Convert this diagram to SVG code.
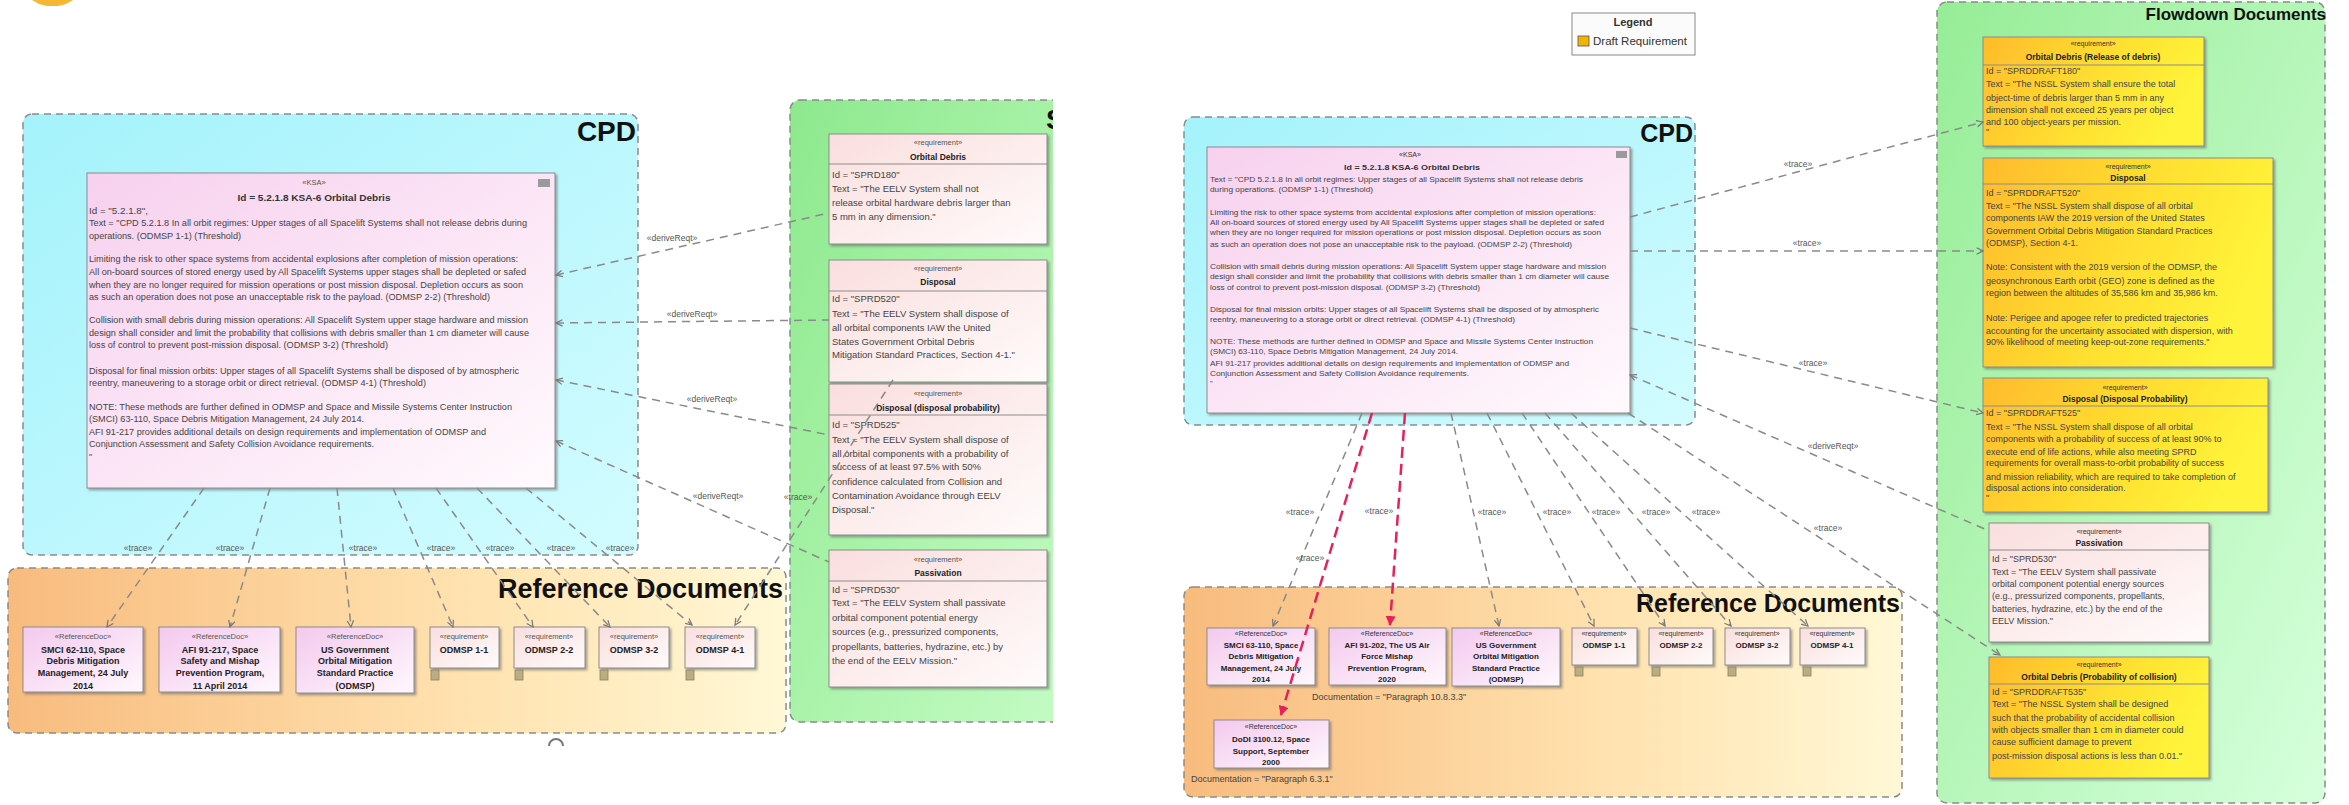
<svg xmlns="http://www.w3.org/2000/svg" width="2349" height="805" viewBox="0 0 2349 805">
<defs>
  <linearGradient id="gCyan" x1="0" y1="0" x2="1" y2="1"><stop offset="0" stop-color="#a4f2fb"/><stop offset="1" stop-color="#d2fcff"/></linearGradient>
  <linearGradient id="gKsa" x1="0" y1="0" x2="1" y2="1"><stop offset="0" stop-color="#f7d0ee"/><stop offset="1" stop-color="#fffafd"/></linearGradient>
  <linearGradient id="gReq" x1="0" y1="0" x2="1" y2="1"><stop offset="0" stop-color="#fadede"/><stop offset="1" stop-color="#fffbfb"/></linearGradient>
  <linearGradient id="gDoc" x1="0" y1="0" x2="1" y2="1"><stop offset="0" stop-color="#f3c9ee"/><stop offset="1" stop-color="#fff8fd"/></linearGradient>
  <linearGradient id="gRef" x1="0" y1="0" x2="1" y2="0"><stop offset="0" stop-color="#f8bb7e"/><stop offset="0.6" stop-color="#ffe3b0"/><stop offset="1" stop-color="#fff8d6"/></linearGradient>
  <linearGradient id="gGreen" x1="0" y1="0" x2="1" y2="1"><stop offset="0" stop-color="#8de98d"/><stop offset="1" stop-color="#c6fcc6"/></linearGradient>
  <linearGradient id="gFlow" x1="0" y1="0" x2="1" y2="1"><stop offset="0" stop-color="#96ed96"/><stop offset="1" stop-color="#d6ffdc"/></linearGradient>
  <linearGradient id="gDraft" x1="0" y1="0" x2="1" y2="0.3"><stop offset="0" stop-color="#ffbb2c"/><stop offset="0.6" stop-color="#ffe030"/><stop offset="1" stop-color="#fff33a"/></linearGradient>
  <filter id="sh" x="-5%" y="-5%" width="115%" height="115%"><feDropShadow dx="2" dy="2" stdDeviation="1" flood-color="#666" flood-opacity="0.55"/></filter>
  <marker id="aOpen" viewBox="0 0 10 10" refX="9" refY="5" markerWidth="8" markerHeight="8" markerUnits="userSpaceOnUse" orient="auto-start-reverse"><path d="M1,1 L9,5 L1,9" fill="none" stroke="#777" stroke-width="1.5"/></marker>
  <marker id="aRed" viewBox="0 0 10 10" refX="9" refY="5" markerWidth="10" markerHeight="10" markerUnits="userSpaceOnUse" orient="auto"><path d="M0,0 L10,5 L0,10 Z" fill="#e8205a"/></marker>
  <clipPath id="clipL"><rect x="0" y="0" width="1053" height="805"/></clipPath>
</defs>
<style>
  text { font-family: "Liberation Sans", Arial, sans-serif; fill: #333; }
  .cont { stroke: #8a8a8a; stroke-width: 1.5; stroke-dasharray: 7 5; }
  .box { stroke: #8c8c8c; stroke-width: 1; }
  .sep { stroke: #8c8c8c; stroke-width: 1; }
  .title { font-weight: bold; fill: #111; }
  .st { font-size: 7.5px; text-anchor: middle; fill: #555; }
  .nm { font-size: 8.5px; font-weight: bold; text-anchor: middle; fill: #222; }
  .bd { font-size: 9.5px; fill: #444; }
  .fb { font-size: 9px; fill: #444; }
  .kb { font-size: 8.5px; fill: #444; }
  .kr { font-size: 7.2px; fill: #444; }
  .dn { font-size: 9px; font-weight: bold; text-anchor: middle; fill: #222; }
  .dnr { font-size: 8px; font-weight: bold; text-anchor: middle; fill: #222; }
  .lbl { font-size: 8.5px; text-anchor: middle; fill: #555; }
  .cn { fill: none; stroke: #8a8a8a; stroke-width: 1.5; stroke-dasharray: 8 6; }
  .red { fill: none; stroke: #e8205a; stroke-width: 2.5; stroke-dasharray: 11 6; }
  .doc { font-size: 9px; fill: #444; }
</style>

<!-- stray shape at the top edge -->
<polygon points="32,0 73,0 66,4 58,6 47,6 39,4" fill="#f7b733"/>

<!-- ================= left view ================= -->
<g id="left-view" clip-path="url(#clipL)">
  <g id="cpd-left">
    <rect x="23" y="114" width="615" height="441" rx="9" fill="url(#gCyan)" class="cont"/>
    <text x="636" y="141" class="title" font-size="28" text-anchor="end">CPD</text>
  </g>
  <g id="refdocs-left">
    <rect x="8" y="568" width="778" height="165" rx="9" fill="url(#gRef)" class="cont"/>
    <text x="783" y="598" class="title" font-size="27" text-anchor="end">Reference Documents</text>
  </g>
  <g id="sprd-left">
    <rect x="790" y="100" width="300" height="622" rx="10" fill="url(#gGreen)" class="cont"/>
    <text x="1046" y="129" class="title" font-size="28">S</text>
  </g>

  <g id="ksa-left">
    <rect x="87" y="173" width="468" height="315" fill="url(#gKsa)" class="box" filter="url(#sh)"/>
    <rect x="538" y="179" width="12" height="8" fill="#9a9a9a"/>
    <text x="314" y="185" class="st">«KSA»</text>
    <text x="314" y="201" font-size="9" font-weight="bold" text-anchor="middle" fill="#222" textLength="153" lengthAdjust="spacingAndGlyphs">Id = 5.2.1.8 KSA-6 Orbital Debris</text>
    <text class="kb" x="89" y="214" textLength="59" lengthAdjust="spacingAndGlyphs">Id = "5.2.1.8",</text>
    <text class="kb" x="89" y="226" textLength="438" lengthAdjust="spacingAndGlyphs">Text = "CPD 5.2.1.8 In all orbit regimes: Upper stages of all Spacelift Systems shall not release debris during</text>
    <text class="kb" x="89" y="239" textLength="152" lengthAdjust="spacingAndGlyphs">operations. (ODMSP 1-1) (Threshold)</text>
    <text class="kb" x="89" y="262" textLength="429" lengthAdjust="spacingAndGlyphs">Limiting the risk to other space systems from accidental explosions after completion of mission operations:</text>
    <text class="kb" x="89" y="275" textLength="437" lengthAdjust="spacingAndGlyphs">All on-board sources of stored energy used by All Spacelift Systems upper stages shall be depleted or safed</text>
    <text class="kb" x="89" y="288" textLength="434" lengthAdjust="spacingAndGlyphs">when they are no longer required for mission operations or post mission disposal. Depletion occurs as soon</text>
    <text class="kb" x="89" y="300" textLength="401" lengthAdjust="spacingAndGlyphs">as such an operation does not pose an unacceptable risk to the payload. (ODMSP 2-2) (Threshold)</text>
    <text class="kb" x="89" y="323" textLength="439" lengthAdjust="spacingAndGlyphs">Collision with small debris during mission operations: All Spacelift System upper stage hardware and mission</text>
    <text class="kb" x="89" y="336" textLength="440" lengthAdjust="spacingAndGlyphs">design shall consider and limit the probability that collisions with debris smaller than 1 cm diameter will cause</text>
    <text class="kb" x="89" y="348" textLength="299" lengthAdjust="spacingAndGlyphs">loss of control to prevent post-mission disposal. (ODMSP 3-2) (Threshold)</text>
    <text class="kb" x="89" y="374" textLength="430" lengthAdjust="spacingAndGlyphs">Disposal for final mission orbits: Upper stages of all Spacelift Systems shall be disposed of by atmospheric</text>
    <text class="kb" x="89" y="386" textLength="337" lengthAdjust="spacingAndGlyphs">reentry, maneuvering to a storage orbit or direct retrieval. (ODMSP 4-1) (Threshold)</text>
    <text class="kb" x="89" y="410" textLength="423" lengthAdjust="spacingAndGlyphs">NOTE: These methods are further defined in ODMSP and Space and Missile Systems Center Instruction</text>
    <text class="kb" x="89" y="422" textLength="275" lengthAdjust="spacingAndGlyphs">(SMCI) 63-110, Space Debris Mitigation Management, 24 July 2014.</text>
    <text class="kb" x="89" y="435" textLength="397" lengthAdjust="spacingAndGlyphs">AFI 91-217 provides additional details on design requirements and implementation of ODMSP and</text>
    <text class="kb" x="89" y="447" textLength="285" lengthAdjust="spacingAndGlyphs">Conjunction Assessment and Safety Collision Avoidance requirements.</text>
    <text class="kb" x="89" y="460">"</text>
  </g>

  <g id="sprd180">
    <rect x="829" y="134" width="218" height="110" fill="url(#gReq)" class="box" filter="url(#sh)"/>
    <line x1="829" y1="164" x2="1047" y2="164" class="sep"/>
    <text x="938" y="145" class="st">«requirement»</text>
    <text x="938" y="160" class="nm">Orbital Debris</text>
    <text class="bd" x="832" y="178">Id = "SPRD180"</text>
    <text class="bd" x="832" y="192">Text = "The EELV System shall not</text>
    <text class="bd" x="832" y="206">release orbital hardware debris larger than</text>
    <text class="bd" x="832" y="220">5 mm in any dimension."</text>
  </g>
  <g id="sprd520">
    <rect x="829" y="260" width="218" height="122" fill="url(#gReq)" class="box" filter="url(#sh)"/>
    <line x1="829" y1="291" x2="1047" y2="291" class="sep"/>
    <text x="938" y="271" class="st">«requirement»</text>
    <text x="938" y="285" class="nm">Disposal</text>
    <text class="bd" x="832" y="302">Id = "SPRD520"</text>
    <text class="bd" x="832" y="317">Text = "The EELV System shall dispose of</text>
    <text class="bd" x="832" y="331">all orbital components IAW the United</text>
    <text class="bd" x="832" y="345">States Government Orbital Debris</text>
    <text class="bd" x="832" y="358">Mitigation Standard Practices, Section 4-1."</text>
  </g>
  <g id="sprd525">
    <rect x="829" y="384" width="218" height="151" fill="url(#gReq)" class="box" filter="url(#sh)"/>
    <line x1="829" y1="415" x2="1047" y2="415" class="sep"/>
    <text x="938" y="396" class="st">«requirement»</text>
    <text x="938" y="411" class="nm">Disposal (disposal probability)</text>
    <text class="bd" x="832" y="428">Id = "SPRD525"</text>
    <text class="bd" x="832" y="443">Text = "The EELV System shall dispose of</text>
    <text class="bd" x="832" y="457">all orbital components with a probability of</text>
    <text class="bd" x="832" y="470">success of at least 97.5% with 50%</text>
    <text class="bd" x="832" y="485">confidence calculated from Collision and</text>
    <text class="bd" x="832" y="499">Contamination Avoidance through EELV</text>
    <text class="bd" x="832" y="513">Disposal."</text>
  </g>
  <g id="sprd530">
    <rect x="829" y="550" width="218" height="137" fill="url(#gReq)" class="box" filter="url(#sh)"/>
    <line x1="829" y1="581" x2="1047" y2="581" class="sep"/>
    <text x="938" y="562" class="st">«requirement»</text>
    <text x="938" y="576" class="nm">Passivation</text>
    <text class="bd" x="832" y="593">Id = "SPRD530"</text>
    <text class="bd" x="832" y="606">Text = "The EELV System shall passivate</text>
    <text class="bd" x="832" y="621">orbital component potential energy</text>
    <text class="bd" x="832" y="635">sources (e.g., pressurized components,</text>
    <text class="bd" x="832" y="650">propellants, batteries, hydrazine, etc.) by</text>
    <text class="bd" x="832" y="664">the end of the EELV Mission."</text>
  </g>

  <g id="smci-left">
    <rect x="23" y="627" width="120" height="65" fill="url(#gDoc)" class="box" filter="url(#sh)"/>
    <text x="83" y="639" class="st">«ReferenceDoc»</text>
    <text x="83" y="653" class="dn">SMCI 62-110, Space</text>
    <text x="83" y="664" class="dn">Debris Mitigation</text>
    <text x="83" y="676" class="dn">Management, 24 July</text>
    <text x="83" y="689" class="dn">2014</text>
  </g>
  <g id="afi217-left">
    <rect x="159" y="627" width="121" height="65" fill="url(#gDoc)" class="box" filter="url(#sh)"/>
    <text x="220" y="639" class="st">«ReferenceDoc»</text>
    <text x="220" y="653" class="dn">AFI 91-217, Space</text>
    <text x="220" y="664" class="dn">Safety and Mishap</text>
    <text x="220" y="676" class="dn">Prevention Program,</text>
    <text x="220" y="689" class="dn">11 April 2014</text>
  </g>
  <g id="odmsp-left">
    <rect x="296" y="627" width="118" height="66" fill="url(#gDoc)" class="box" filter="url(#sh)"/>
    <text x="355" y="639" class="st">«ReferenceDoc»</text>
    <text x="355" y="653" class="dn">US Government</text>
    <text x="355" y="664" class="dn">Orbital Mitigation</text>
    <text x="355" y="676" class="dn">Standard Practice</text>
    <text x="355" y="689" class="dn">(ODMSP)</text>
  </g>
  <g id="odmsp11-left">
    <rect x="430" y="627" width="69" height="41" fill="url(#gReq)" class="box" filter="url(#sh)"/>
    <text x="464" y="639" class="st">«requirement»</text>
    <text x="464" y="653" class="dn">ODMSP 1-1</text>
    <rect x="431" y="670" width="8" height="10" fill="#b9ad82" stroke="#8a8060" stroke-width="0.8"/>
  </g>
  <g id="odmsp22-left">
    <rect x="514" y="627" width="71" height="41" fill="url(#gReq)" class="box" filter="url(#sh)"/>
    <text x="549" y="639" class="st">«requirement»</text>
    <text x="549" y="653" class="dn">ODMSP 2-2</text>
    <rect x="515" y="670" width="8" height="10" fill="#b9ad82" stroke="#8a8060" stroke-width="0.8"/>
  </g>
  <g id="odmsp32-left">
    <rect x="599" y="627" width="70" height="41" fill="url(#gReq)" class="box" filter="url(#sh)"/>
    <text x="634" y="639" class="st">«requirement»</text>
    <text x="634" y="653" class="dn">ODMSP 3-2</text>
    <rect x="600" y="670" width="8" height="10" fill="#b9ad82" stroke="#8a8060" stroke-width="0.8"/>
  </g>
  <g id="odmsp41-left">
    <rect x="685" y="627" width="70" height="41" fill="url(#gReq)" class="box" filter="url(#sh)"/>
    <text x="720" y="639" class="st">«requirement»</text>
    <text x="720" y="653" class="dn">ODMSP 4-1</text>
    <rect x="686" y="670" width="8" height="10" fill="#b9ad82" stroke="#8a8060" stroke-width="0.8"/>
  </g>

  <path d="M549,746 A7,7 0 0 1 563,746" fill="none" stroke="#777" stroke-width="2"/>

  <g id="connectors-left">
    <path class="cn" d="M556,275 L829,213" marker-start="url(#aOpen)"/>
    <path class="cn" d="M556,323 L829,320" marker-start="url(#aOpen)"/>
    <path class="cn" d="M556,380 L829,435" marker-start="url(#aOpen)"/>
    <path class="cn" d="M556,441 L829,562" marker-start="url(#aOpen)"/>
    <path class="cn" d="M893,380 L735,625" marker-end="url(#aOpen)"/>
    <path class="cn" d="M204,488 L107,627" marker-end="url(#aOpen)"/>
    <path class="cn" d="M270,488 L230,627" marker-end="url(#aOpen)"/>
    <path class="cn" d="M337,488 L351,627" marker-end="url(#aOpen)"/>
    <path class="cn" d="M393,488 L453,627" marker-end="url(#aOpen)"/>
    <path class="cn" d="M436,488 L533,627" marker-end="url(#aOpen)"/>
    <path class="cn" d="M477,488 L610,627" marker-end="url(#aOpen)"/>
    <path class="cn" d="M526,488 L692,625" marker-end="url(#aOpen)"/>
    <text class="lbl" x="672" y="241">«deriveReqt»</text>
    <text class="lbl" x="692" y="317">«deriveReqt»</text>
    <text class="lbl" x="712" y="402">«deriveReqt»</text>
    <text class="lbl" x="718" y="499">«deriveReqt»</text>
    <text class="lbl" x="798" y="500">«trace»</text>
    <text class="lbl" x="138" y="551">«trace»</text>
    <text class="lbl" x="230" y="551">«trace»</text>
    <text class="lbl" x="363" y="551">«trace»</text>
    <text class="lbl" x="441" y="551">«trace»</text>
    <text class="lbl" x="500" y="551">«trace»</text>
    <text class="lbl" x="561" y="551">«trace»</text>
    <text class="lbl" x="620" y="551">«trace»</text>
  </g>
</g>

<!-- ================= right view ================= -->
<g id="right-view">
  <g id="legend">
    <rect x="1572" y="13" width="123" height="42" fill="#fbfbfb" stroke="#888" stroke-width="1"/>
    <text x="1633" y="26" font-size="11" font-weight="bold" text-anchor="middle" fill="#222">Legend</text>
    <rect x="1578" y="36" width="11" height="10" fill="#f2b400" stroke="#555" stroke-width="0.8"/>
    <text x="1593" y="45" font-size="11.5" fill="#444">Draft Requirement</text>
  </g>
  <g id="cpd-right">
    <rect x="1184" y="117" width="511" height="308" rx="9" fill="url(#gCyan)" class="cont"/>
    <text x="1693" y="142" class="title" font-size="25" text-anchor="end">CPD</text>
  </g>
  <g id="refdocs-right">
    <rect x="1184" y="587" width="718" height="210" rx="9" fill="url(#gRef)" class="cont"/>
    <text x="1900" y="612" class="title" font-size="25" text-anchor="end">Reference Documents</text>
    <text x="1191" y="782" class="doc">Documentation = "Paragraph 6.3.1"</text>
    <text x="1312" y="700" class="doc">Documentation = "Paragraph 10.8.3.3"</text>
  </g>
  <g id="flowdown">
    <rect x="1937" y="2" width="388" height="801" rx="10" fill="url(#gFlow)" class="cont"/>
    <text x="2326" y="20" class="title" font-size="17" text-anchor="end">Flowdown Documents</text>
  </g>

  <g id="ksa-right">
    <rect x="1207" y="147" width="423" height="266" fill="url(#gKsa)" class="box" filter="url(#sh)"/>
    <rect x="1616" y="151" width="11" height="7" fill="#9a9a9a"/>
    <text x="1410" y="157" font-size="7" text-anchor="middle" fill="#555">«KSA»</text>
    <text x="1412" y="170" font-size="8" font-weight="bold" text-anchor="middle" fill="#222" textLength="136" lengthAdjust="spacingAndGlyphs">Id = 5.2.1.8 KSA-6 Orbital Debris</text>
    <text class="kr" x="1210" y="182" textLength="373" lengthAdjust="spacingAndGlyphs">Text = "CPD 5.2.1.8 In all orbit regimes: Upper stages of all Spacelift Systems shall not release debris</text>
    <text class="kr" x="1210" y="192" textLength="163" lengthAdjust="spacingAndGlyphs">during operations. (ODMSP 1-1) (Threshold)</text>
    <text class="kr" x="1210" y="215" textLength="386" lengthAdjust="spacingAndGlyphs">Limiting the risk to other space systems from accidental explosions after completion of mission operations:</text>
    <text class="kr" x="1210" y="225" textLength="394" lengthAdjust="spacingAndGlyphs">All on-board sources of stored energy used by All Spacelift Systems upper stages shall be depleted or safed</text>
    <text class="kr" x="1210" y="235" textLength="391" lengthAdjust="spacingAndGlyphs">when they are no longer required for mission operations or post mission disposal. Depletion occurs as soon</text>
    <text class="kr" x="1210" y="247" textLength="362" lengthAdjust="spacingAndGlyphs">as such an operation does not pose an unacceptable risk to the payload. (ODMSP 2-2) (Threshold)</text>
    <text class="kr" x="1210" y="269" textLength="396" lengthAdjust="spacingAndGlyphs">Collision with small debris during mission operations: All Spacelift System upper stage hardware and mission</text>
    <text class="kr" x="1210" y="279" textLength="399" lengthAdjust="spacingAndGlyphs">design shall consider and limit the probability that collisions with debris smaller than 1 cm diameter will cause</text>
    <text class="kr" x="1210" y="290" textLength="270" lengthAdjust="spacingAndGlyphs">loss of control to prevent post-mission disposal. (ODMSP 3-2) (Threshold)</text>
    <text class="kr" x="1210" y="312" textLength="389" lengthAdjust="spacingAndGlyphs">Disposal for final mission orbits: Upper stages of all Spacelift Systems shall be disposed of by atmospheric</text>
    <text class="kr" x="1210" y="322" textLength="305" lengthAdjust="spacingAndGlyphs">reentry, maneuvering to a storage orbit or direct retrieval. (ODMSP 4-1) (Threshold)</text>
    <text class="kr" x="1210" y="344" textLength="383" lengthAdjust="spacingAndGlyphs">NOTE: These methods are further defined in ODMSP and Space and Missile Systems Center Instruction</text>
    <text class="kr" x="1210" y="354" textLength="248" lengthAdjust="spacingAndGlyphs">(SMCI) 63-110, Space Debris Mitigation Management, 24 July 2014.</text>
    <text class="kr" x="1210" y="366" textLength="359" lengthAdjust="spacingAndGlyphs">AFI 91-217 provides additional details on design requirements and implementation of ODMSP and</text>
    <text class="kr" x="1210" y="376" textLength="259" lengthAdjust="spacingAndGlyphs">Conjunction Assessment and Safety Collision Avoidance requirements.</text>
    <text class="kr" x="1210" y="386">"</text>
  </g>

  <g id="smci-right">
    <rect x="1207" y="628" width="108" height="57" fill="url(#gDoc)" class="box" filter="url(#sh)"/>
    <text x="1261" y="636" font-size="7" text-anchor="middle" fill="#555">«ReferenceDoc»</text>
    <text x="1261" y="648" class="dnr">SMCI 63-110, Space</text>
    <text x="1261" y="659" class="dnr">Debris Mitigation</text>
    <text x="1261" y="671" class="dnr">Management, 24 July</text>
    <text x="1261" y="682" class="dnr">2014</text>
  </g>
  <g id="afi202-right">
    <rect x="1329" y="628" width="117" height="57" fill="url(#gDoc)" class="box" filter="url(#sh)"/>
    <text x="1387" y="636" font-size="7" text-anchor="middle" fill="#555">«ReferenceDoc»</text>
    <text x="1387" y="648" class="dnr">AFI 91-202, The US Air</text>
    <text x="1387" y="659" class="dnr">Force Mishap</text>
    <text x="1387" y="671" class="dnr">Prevention Program,</text>
    <text x="1387" y="682" class="dnr">2020</text>
  </g>
  <g id="odmsp-right">
    <rect x="1452" y="628" width="108" height="58" fill="url(#gDoc)" class="box" filter="url(#sh)"/>
    <text x="1506" y="636" font-size="7" text-anchor="middle" fill="#555">«ReferenceDoc»</text>
    <text x="1506" y="648" class="dnr">US Government</text>
    <text x="1506" y="659" class="dnr">Orbital Mitigation</text>
    <text x="1506" y="671" class="dnr">Standard Practice</text>
    <text x="1506" y="682" class="dnr">(ODMSP)</text>
  </g>
  <g id="odmsp11-right">
    <rect x="1572" y="628" width="65" height="37" fill="url(#gReq)" class="box" filter="url(#sh)"/>
    <text x="1604" y="636" font-size="7" text-anchor="middle" fill="#555">«requirement»</text>
    <text x="1604" y="648" class="dnr">ODMSP 1-1</text>
    <rect x="1575" y="667" width="8" height="9" fill="#b9ad82" stroke="#8a8060" stroke-width="0.8"/>
  </g>
  <g id="odmsp22-right">
    <rect x="1649" y="628" width="64" height="37" fill="url(#gReq)" class="box" filter="url(#sh)"/>
    <text x="1681" y="636" font-size="7" text-anchor="middle" fill="#555">«requirement»</text>
    <text x="1681" y="648" class="dnr">ODMSP 2-2</text>
    <rect x="1652" y="667" width="8" height="9" fill="#b9ad82" stroke="#8a8060" stroke-width="0.8"/>
  </g>
  <g id="odmsp32-right">
    <rect x="1725" y="628" width="65" height="37" fill="url(#gReq)" class="box" filter="url(#sh)"/>
    <text x="1757" y="636" font-size="7" text-anchor="middle" fill="#555">«requirement»</text>
    <text x="1757" y="648" class="dnr">ODMSP 3-2</text>
    <rect x="1728" y="667" width="8" height="9" fill="#b9ad82" stroke="#8a8060" stroke-width="0.8"/>
  </g>
  <g id="odmsp41-right">
    <rect x="1800" y="628" width="65" height="37" fill="url(#gReq)" class="box" filter="url(#sh)"/>
    <text x="1832" y="636" font-size="7" text-anchor="middle" fill="#555">«requirement»</text>
    <text x="1832" y="648" class="dnr">ODMSP 4-1</text>
    <rect x="1803" y="667" width="8" height="9" fill="#b9ad82" stroke="#8a8060" stroke-width="0.8"/>
  </g>
  <g id="dodi-right">
    <rect x="1214" y="720" width="115" height="48" fill="url(#gDoc)" class="box" filter="url(#sh)"/>
    <text x="1271" y="729" font-size="7" text-anchor="middle" fill="#555">«ReferenceDoc»</text>
    <text x="1271" y="742" class="dnr">DoDI 3100.12, Space</text>
    <text x="1271" y="754" class="dnr">Support, September</text>
    <text x="1271" y="765" class="dnr">2000</text>
  </g>

  <g id="sprddraft180">
    <rect x="1983" y="37" width="221" height="109" fill="url(#gDraft)" class="box" filter="url(#sh)"/>
    <line x1="1983" y1="65" x2="2204" y2="65" class="sep"/>
    <text x="2093" y="46" font-size="7" text-anchor="middle" fill="#555">«requirement»</text>
    <text x="2093" y="60" class="nm">Orbital Debris (Release of debris)</text>
    <text class="fb" x="1986" y="74">Id = "SPRDDRAFT180"</text>
    <text class="fb" x="1986" y="87">Text = "The NSSL System shall ensure the total</text>
    <text class="fb" x="1986" y="101">object-time of debris larger than 5 mm in any</text>
    <text class="fb" x="1986" y="113">dimension shall not exceed 25 years per object</text>
    <text class="fb" x="1986" y="125">and 100 object-years per mission.</text>
    <text class="fb" x="1986" y="135">"</text>
  </g>
  <g id="sprddraft520">
    <rect x="1983" y="158" width="290" height="209" fill="url(#gDraft)" class="box" filter="url(#sh)"/>
    <line x1="1983" y1="184" x2="2273" y2="184" class="sep"/>
    <text x="2128" y="169" font-size="7" text-anchor="middle" fill="#555">«requirement»</text>
    <text x="2128" y="181" class="nm">Disposal</text>
    <text class="fb" x="1986" y="196">Id = "SPRDDRAFT520"</text>
    <text class="fb" x="1986" y="209">Text = "The NSSL System shall dispose of all orbital</text>
    <text class="fb" x="1986" y="221">components IAW the 2019 version of the United States</text>
    <text class="fb" x="1986" y="234">Government Orbital Debris Mitigation Standard Practices</text>
    <text class="fb" x="1986" y="246">(ODMSP), Section 4-1.</text>
    <text class="fb" x="1986" y="270">Note: Consistent with the 2019 version of the ODMSP, the</text>
    <text class="fb" x="1986" y="284">geosynchronous Earth orbit (GEO) zone is defined as the</text>
    <text class="fb" x="1986" y="296">region between the altitudes of 35,586 km and 35,986 km.</text>
    <text class="fb" x="1986" y="321">Note: Perigee and apogee refer to predicted trajectories</text>
    <text class="fb" x="1986" y="334">accounting for the uncertainty associated with dispersion, with</text>
    <text class="fb" x="1986" y="345">90% likelihood of meeting keep-out-zone requirements."</text>
  </g>
  <g id="sprddraft525">
    <rect x="1983" y="378" width="285" height="134" fill="url(#gDraft)" class="box" filter="url(#sh)"/>
    <line x1="1983" y1="406" x2="2268" y2="406" class="sep"/>
    <text x="2125" y="390" font-size="7" text-anchor="middle" fill="#555">«requirement»</text>
    <text x="2125" y="402" class="nm">Disposal (Disposal Probability)</text>
    <text class="fb" x="1986" y="416">Id = "SPRDDRAFT525"</text>
    <text class="fb" x="1986" y="430">Text = "The NSSL System shall dispose of all orbital</text>
    <text class="fb" x="1986" y="442">components with a probability of success of at least 90% to</text>
    <text class="fb" x="1986" y="455">execute end of life actions, while also meeting SPRD</text>
    <text class="fb" x="1986" y="466">requirements for overall mass-to-orbit probability of success</text>
    <text class="fb" x="1986" y="480">and mission reliability, which are required to take completion of</text>
    <text class="fb" x="1986" y="491">disposal actions into consideration.</text>
    <text class="fb" x="1986" y="501">"</text>
  </g>
  <g id="sprd530-flow">
    <rect x="1989" y="523" width="220" height="119" fill="url(#gReq)" class="box" filter="url(#sh)"/>
    <line x1="1989" y1="550" x2="2209" y2="550" class="sep"/>
    <text x="2099" y="534" font-size="7" text-anchor="middle" fill="#555">«requirement»</text>
    <text x="2099" y="546" class="nm">Passivation</text>
    <text class="fb" x="1992" y="562">Id = "SPRD530"</text>
    <text class="fb" x="1992" y="575">Text = "The EELV System shall passivate</text>
    <text class="fb" x="1992" y="587">orbital component potential energy sources</text>
    <text class="fb" x="1992" y="599">(e.g., pressurized components, propellants,</text>
    <text class="fb" x="1992" y="612">batteries, hydrazine, etc.) by the end of the</text>
    <text class="fb" x="1992" y="624">EELV Mission."</text>
  </g>
  <g id="sprddraft535">
    <rect x="1989" y="657" width="220" height="121" fill="url(#gDraft)" class="box" filter="url(#sh)"/>
    <line x1="1989" y1="684" x2="2209" y2="684" class="sep"/>
    <text x="2099" y="667" font-size="7" text-anchor="middle" fill="#555">«requirement»</text>
    <text x="2099" y="680" class="nm">Orbital Debris (Probability of collision)</text>
    <text class="fb" x="1992" y="695">Id = "SPRDDRAFT535"</text>
    <text class="fb" x="1992" y="707">Text = "The NSSL System shall be designed</text>
    <text class="fb" x="1992" y="721">such that the probability of accidental collision</text>
    <text class="fb" x="1992" y="733">with objects smaller than 1 cm in diameter could</text>
    <text class="fb" x="1992" y="745">cause sufficient damage to prevent</text>
    <text class="fb" x="1992" y="759">post-mission disposal actions is less than 0.01."</text>
  </g>

  <g id="connectors-right">
    <path class="cn" d="M1630,217 L1983,122" marker-end="url(#aOpen)"/>
    <path class="cn" d="M1630,251 L1983,251" marker-end="url(#aOpen)"/>
    <path class="cn" d="M1630,328 L1983,413" marker-end="url(#aOpen)"/>
    <path class="cn" d="M1630,375 L1987,530" marker-start="url(#aOpen)"/>
    <path class="cn" d="M1628,413 L2000,655" marker-end="url(#aOpen)"/>
    <path class="cn" d="M1362,413 L1273,626" marker-end="url(#aOpen)"/>
    <path class="cn" d="M1451,413 L1499,626" marker-end="url(#aOpen)"/>
    <path class="cn" d="M1487,413 L1594,626" marker-end="url(#aOpen)"/>
    <path class="cn" d="M1522,413 L1665,626" marker-end="url(#aOpen)"/>
    <path class="cn" d="M1545,413 L1731,626" marker-end="url(#aOpen)"/>
    <path class="cn" d="M1571,413 L1808,626" marker-end="url(#aOpen)"/>
    <path class="red" d="M1372,413 L1281,715" marker-end="url(#aRed)"/>
    <path class="red" d="M1405,413 L1390,625" marker-end="url(#aRed)"/>
    <text class="lbl" font-size="7.5" x="1798" y="167">«trace»</text>
    <text class="lbl" font-size="7.5" x="1807" y="246">«trace»</text>
    <text class="lbl" font-size="7.5" x="1813" y="366">«trace»</text>
    <text class="lbl" font-size="7.5" x="1833" y="449">«deriveReqt»</text>
    <text class="lbl" font-size="7.5" x="1828" y="531">«trace»</text>
    <text class="lbl" font-size="7.5" x="1300" y="515">«trace»</text>
    <text class="lbl" font-size="7.5" x="1310" y="561">«trace»</text>
    <text class="lbl" font-size="7.5" x="1379" y="514">«trace»</text>
    <text class="lbl" font-size="7.5" x="1492" y="515">«trace»</text>
    <text class="lbl" font-size="7.5" x="1557" y="515">«trace»</text>
    <text class="lbl" font-size="7.5" x="1606" y="515">«trace»</text>
    <text class="lbl" font-size="7.5" x="1656" y="515">«trace»</text>
    <text class="lbl" font-size="7.5" x="1706" y="515">«trace»</text>
  </g>
</g>
</svg>
